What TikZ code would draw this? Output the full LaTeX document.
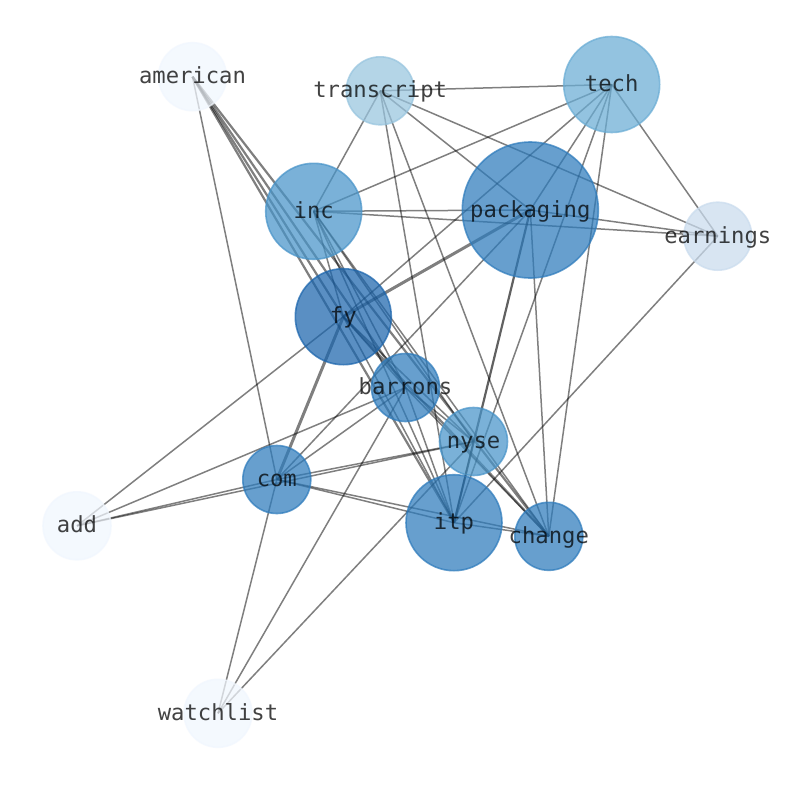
\documentclass[tikz,border=0pt]{standalone}
\usepackage{fontspec}
\setmonofont{DejaVu Sans Mono}
\pgfdeclarelayer{bg}
\pgfdeclarelayer{paper}
\pgfsetlayers{paper,bg,main}
\definecolor{cA}{RGB}{241,247,254}
\definecolor{cEarn}{RGB}{202,220,238}
\definecolor{cTrans}{RGB}{152,197,223}
\definecolor{cTech}{RGB}{106,173,213}
\definecolor{cInc}{RGB}{72,148,201}
\definecolor{cPack}{RGB}{45,123,188}
\definecolor{cFy}{RGB}{27,101,173}
\tikzset{
 vtx/.style={circle, inner sep=0pt, minimum size=#1, line width=1.6pt, fill opacity=0.72, draw opacity=0.72},
 lbl/.style={inner sep=0pt, yshift=-4.5pt, text height=0.76em, text depth=0.24em, font=\ttfamily\fontsize{22.2}{26}\selectfont, text=black, text opacity=0.74},
 edge/.style={draw=black, draw opacity=0.5, line width=1.5pt},
 edgem/.style={edge, line width=2.2pt},
 edget/.style={edge, line width=3pt},
}
\begin{document}
\begin{tikzpicture}[x=1pt,y=-1pt]
\begin{pgfonlayer}{paper}
\fill[white] (0,0) rectangle (794,790);
\end{pgfonlayer}
\useasboundingbox (0,0) rectangle (794,790);
% nodes
\node[vtx=68pt, fill=cA, draw=cA] (american) at (192.5,76.7) {};
\node[vtx=68pt, fill=cTrans, draw=cTrans] (transcript) at (380.2,90.8) {};
\node[vtx=96pt, fill=cTech, draw=cTech] (tech) at (611.7,84.5) {};
\node[vtx=96pt, fill=cInc, draw=cInc] (inc) at (313.7,211.3) {};
\node[vtx=136pt, fill=cPack, draw=cPack] (packaging) at (530.3,210) {};
\node[vtx=68pt, fill=cEarn, draw=cEarn] (earnings) at (717.8,236.2) {};
\node[vtx=96pt, fill=cFy, draw=cFy] (fy) at (343.3,316.7) {};
\node[vtx=68pt, fill=cPack, draw=cPack] (barrons) at (405.5,387.5) {};
\node[vtx=68pt, fill=cInc, draw=cInc] (nyse) at (473.5,441.5) {};
\node[vtx=68pt, fill=cPack, draw=cPack] (com) at (276.8,479.5) {};
\node[vtx=96pt, fill=cPack, draw=cPack] (itp) at (454,522.7) {};
\node[vtx=68pt, fill=cPack, draw=cPack] (change) at (548.8,536.3) {};
\node[vtx=68pt, fill=cA, draw=cA] (add) at (77,525.8) {};
\node[vtx=68pt, fill=cA, draw=cA] (watchlist) at (218,713.3) {};
% labels
\foreach \n in {american,transcript,tech,inc,packaging,earnings,fy,barrons,nyse,com,itp,change,add,watchlist}
  \node[lbl] (\n-l) at (\n.center) {\n};
% edges
\begin{pgfonlayer}{bg}
\draw[edge] (american.center) -- (com.center);
\draw[edgem] (american.center) -- (fy.center);
\draw[edgem] (american.center) -- (barrons.center);
\draw[edgem] (american.center) -- (itp.center);
\draw[edgem] (american.center) -- (change.center);
\draw[edge] (transcript.center) -- (tech.center);
\draw[edge] (transcript.center) -- (inc.center);
\draw[edge] (transcript.center) -- (packaging.center);
\draw[edge] (transcript.center) -- (earnings.center);
\draw[edge] (transcript.center) -- (itp.center);
\draw[edge] (transcript.center) -- (change.center);
\draw[edge] (tech.center) -- (inc.center);
\draw[edge] (tech.center) -- (fy.center);
\draw[edge] (tech.center) -- (packaging.center);
\draw[edge] (tech.center) -- (itp.center);
\draw[edge] (tech.center) -- (change.center);
\draw[edge] (tech.center) -- (earnings.center);
\draw[edge] (inc.center) -- (packaging.center);
\draw[edge] (inc.center) -- (earnings.center);
\draw[edge] (inc.center) -- (fy.center);
\draw[edge] (inc.center) -- (barrons.center);
\draw[edge] (inc.center) -- (nyse.center);
\draw[edge] (inc.center) -- (itp.center);
\draw[edge] (inc.center) -- (change.center);
\draw[edge] (packaging.center) -- (earnings.center);
\draw[edget] (packaging.center) -- (fy.center);
\draw[edge] (packaging.center) -- (com.center);
\draw[edgem, draw opacity=0.62] (packaging.center) -- (itp.center);
\draw[edge] (packaging.center) -- (change.center);
\draw[edge] (earnings.center) -- (itp.center);
\draw[edget] (fy.center) -- (com.center);
\draw[edge] (fy.center) -- (add.center);
\draw[edge] (fy.center) -- (barrons.center);
\draw[edge] (fy.center) -- (nyse.center);
\draw[edge] (fy.center) -- (itp.center);
\draw[edgem] (fy.center) -- (change.center);
\draw[edge] (barrons.center) -- (nyse.center);
\draw[edge] (barrons.center) -- (itp.center);
\draw[edge] (barrons.center) -- (change.center);
\draw[edge] (barrons.center) -- (com.center);
\draw[edge] (barrons.center) -- (add.center);
\draw[edge] (barrons.center) -- (watchlist.center);
\draw[edge] (nyse.center) -- (com.center);
\draw[edge] (nyse.center) -- (add.center);
\draw[edge] (nyse.center) -- (watchlist.center);
\draw[edge] (nyse.center) -- (itp.center);
\draw[edge] (com.center) -- (add.center);
\draw[edge] (com.center) -- (itp.center);
\draw[edge] (com.center) -- (change.center);
\draw[edge] (com.center) -- (watchlist.center);
\draw[edge] (itp.center) -- (change.center);
\end{pgfonlayer}
\end{tikzpicture}
\end{document}
